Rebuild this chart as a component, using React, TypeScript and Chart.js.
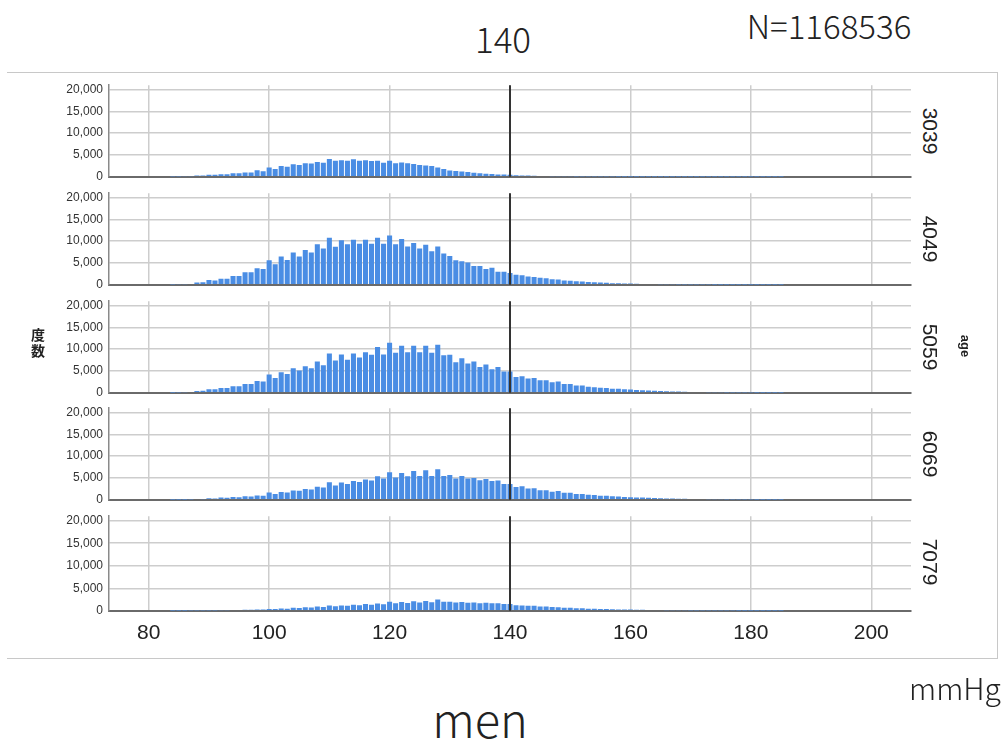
import React, { useEffect, useRef } from "react";
import { Chart, registerables } from "chart.js";

Chart.register(...registerables);

// ---- data ----
const binStart = 84; // first 1-mmHg bin
const panelLabels = ["3039", "4049", "5059", "6069", "7079"];

const age3039 = [
  50, 80, 110, 150, 300, 300,
  450, 450, 600, 600, 800, 800, 1000, 1000, 1500, 1300,
  2150, 1800, 2500, 2300, 2850, 2700, 3100, 3050, 3400, 3200,
  4100, 3700, 3800, 3700, 4000, 3700, 3800, 3650, 3700, 3200,
  3700, 3100, 3300, 3100, 2950, 2700, 2600, 2450, 2150, 1800,
  1450, 1350, 1200, 1100, 950, 800, 700, 650, 550, 500,
  450, 380, 320, 280, 240, 200, 180, 150, 130, 110,
  100, 90, 80, 70, 60, 55, 50, 45, 40, 35,
  30, 28, 25, 22, 20, 18, 16, 14, 12, 10,
  9, 8, 7, 6, 5, 5, 4, 4, 3, 3,
  2, 2, 2, 1, 1, 1,
];

const age4049 = [
  50, 100, 150, 200, 500, 600,
  1100, 1000, 1400, 1400, 2000, 2000, 2900, 2900, 3800, 3600,
  5600, 4700, 6500, 5700, 7400, 6500, 8000, 7400, 9300, 8300,
  10800, 8700, 10200, 9300, 10300, 9400, 10300, 9400, 10800, 9400,
  11300, 9300, 10500, 8800, 9600, 8300, 9200, 7700, 8800, 7200,
  6600, 5600, 5400, 5100, 4300, 4300, 3600, 3900, 3000, 3000,
  2700, 2300, 2200, 1900, 1800, 1600, 1500, 1300, 1200, 1000,
  950, 800, 750, 650, 600, 500, 450, 380, 350, 300,
  280, 240, 210, 180, 160, 140, 120, 100, 90, 80,
  70, 60, 50, 45, 40, 35, 30, 25, 22, 20,
  18, 15, 12, 10, 8, 6,
];

const age5059 = [
  40, 70, 120, 200, 400, 450,
  800, 800, 1100, 1100, 1500, 1500, 2000, 2000, 2700, 2600,
  4200, 3400, 4700, 4300, 5600, 5100, 6100, 5600, 7200, 6300,
  9000, 7400, 8800, 7600, 9000, 8100, 9300, 8700, 10500, 8800,
  11500, 9200, 10800, 9300, 10800, 9300, 10800, 9200, 11000, 8600,
  8700, 7000, 7900, 6700, 7200, 5900, 6500, 5400, 5900, 4900,
  4900, 3600, 3800, 3300, 3400, 2900, 2900, 2400, 2600, 2000,
  2000, 1650, 1650, 1400, 1300, 1150, 1100, 900, 900, 800,
  750, 650, 600, 500, 450, 400, 350, 300, 270, 240,
  210, 180, 160, 140, 120, 100, 90, 80, 70, 60,
  50, 40, 35, 30, 25, 20,
];

const age6069 = [
  20, 30, 40, 50, 200, 150,
  350, 300, 500, 450, 650, 600, 800, 750, 1000, 930,
  1650, 1350, 1800, 1700, 2150, 2100, 2450, 2350, 3000, 2800,
  4000, 3300, 3950, 3600, 4300, 4100, 4650, 4400, 5400, 4900,
  6300, 5100, 6150, 5400, 6600, 5450, 6800, 5450, 7000, 5450,
  5700, 4900, 5450, 4900, 5000, 4500, 4750, 4300, 4400, 3650,
  3650, 2950, 3100, 2600, 2650, 2200, 2200, 1850, 2000, 1600,
  1600, 1350, 1350, 1150, 1100, 950, 900, 800, 750, 650,
  600, 550, 500, 450, 400, 350, 300, 280, 250, 220,
  200, 180, 160, 140, 120, 100, 90, 80, 70, 60,
  50, 40, 35, 30, 25, 20,
];

const age7079 = [
  10, 20, 30, 40, 50, 60,
  80, 90, 110, 130, 160, 180, 220, 240, 290, 300,
  400, 380, 500, 450, 650, 600, 800, 720, 950, 850,
  1150, 1000, 1200, 1100, 1350, 1250, 1500, 1350, 1600, 1450,
  2000, 1700, 1950, 1750, 2100, 1850, 2200, 1900, 2500, 2000,
  2000, 1850, 1950, 1800, 1850, 1700, 1800, 1650, 1650, 1500,
  1500, 1250, 1200, 1100, 1100, 950, 950, 820, 800, 680,
  650, 560, 540, 470, 450, 400, 380, 330, 310, 280,
  280, 240, 220, 190, 180, 160, 140, 120, 110, 100,
  90, 80, 70, 60, 55, 50, 45, 40, 35, 30,
  25, 20, 18, 15, 12, 10,
];

const panelValues = [age3039, age4049, age5059, age6069, age7079];

const xTicks = [80, 100, 120, 140, 160, 180, 200];
const yTicks = [0, 5000, 10000, 15000, 20000];
const xMin = 73.4;
const xMax = 206.6;
const yMax = 21000;
const refLine = 140;

const titleText = "140";
const nText = "N=1168536";
const footerText = "men";
const unitText = "mmHg";
const yTitle = ["度", "数"];
const groupTitle = "age";

// ---- layout constants ----
const firstZero = 180;
const panelStep = 107.8;
const plotH = 98;
const padTop = 10;
const padBottom = 10;
const canvasW = 912;
const axisW = 109;
const xLabelPad = 10;

const refLinePlugin = {
  id: "refLine",
  afterDatasetsDraw(chart: any) {
    const { ctx, chartArea, scales } = chart;
    const x = Math.round(scales.x.getPixelForValue(refLine));
    ctx.save();
    ctx.strokeStyle = "#333";
    ctx.lineWidth = 2;
    ctx.beginPath();
    ctx.moveTo(x, chartArea.top);
    ctx.lineTo(x, chartArea.bottom);
    ctx.stroke();
    ctx.restore();
  },
};

function Panel({ values, top, height, showX }: { values: number[]; top: number; height: number; showX: boolean }) {
  const ref = useRef<HTMLCanvasElement>(null);
  useEffect(() => {
    if (!ref.current) return;
    const data = values.map((v, i) => ({ x: binStart + i, y: v }));
    const chart = new Chart(ref.current, {
      type: "bar",
      data: {
        datasets: [
          {
            data: data as any,
            backgroundColor: "#4a8de4",
            borderWidth: 0,
            barPercentage: 0.84,
            categoryPercentage: 1,
          },
        ],
      },
      options: {
        animation: false,
        responsive: false,
        maintainAspectRatio: false,
        events: [],
        layout: { padding: { top: padTop, bottom: padBottom, left: 0, right: 1 } },
        plugins: { legend: { display: false }, tooltip: { enabled: false } },
        scales: {
          x: {
            type: "linear",
            min: xMin,
            max: xMax,
            offset: false,
            afterBuildTicks: (s: any) => {
              s.ticks = xTicks.map((v) => ({ value: v }));
            },
            grid: { color: "#cdcdcd", lineWidth: 1.5, drawTicks: false, offset: false },
            border: { color: "#6a6a6a", width: 2 },
            ticks: {
              display: showX,
              padding: xLabelPad,
              color: "#222",
              font: { family: "'Liberation Sans', Arial, sans-serif", size: 21 },
              callback: (v: any) => String(v),
            },
          },
          y: {
            min: 0,
            max: yMax,
            afterBuildTicks: (s: any) => {
              s.ticks = yTicks.map((v) => ({ value: v }));
            },
            afterFit: (s: any) => {
              s.width = axisW;
            },
            grid: { color: "#cdcdcd", lineWidth: 1.5, drawTicks: false },
            border: { color: "#8a8a8a", width: 1.5 },
            ticks: {
              padding: 6,
              color: "#333",
              font: { family: "'Liberation Sans', Arial, sans-serif", size: 12 },
              callback: (v: any) => Number(v).toLocaleString("en-US"),
            },
          },
        },
      } as any,
      plugins: [refLinePlugin],
    });
    return () => chart.destroy();
  }, [values, showX]);
  return (
    <canvas
      ref={ref}
      width={canvasW}
      height={height}
      style={{ position: "absolute", left: 0, top, width: canvasW, height }}
    />
  );
}

const textFont = "'Noto Sans CJK JP', 'Noto Sans', sans-serif";

function Label({ cx, cy, size, children, style }: any) {
  return (
    <div
      style={{
        position: "absolute",
        left: cx,
        top: cy,
        transform: "translate(-50%, -50%)",
        fontFamily: textFont,
        fontSize: size,
        fontWeight: 300,
        lineHeight: 1,
        whiteSpace: "nowrap",
        color: "#222",
        ...style,
      }}
    >
      {children}
    </div>
  );
}

export default function App() {
  return (
    <div
      style={{
        position: "absolute",
        left: 0,
        top: 0,
        width: 1008,
        height: 740,
        background: "#fff",
        overflow: "hidden",
      }}
    >
      <div
        style={{
          position: "absolute",
          left: 7,
          top: 72,
          width: 991,
          height: 587,
          boxSizing: "border-box",
          borderTop: "1px solid #c8c8c8",
          borderRight: "1px solid #c8c8c8",
          borderBottom: "1px solid #c8c8c8",
        }}
      />
      {panelValues.map((vals, i) => {
        const zero = firstZero + panelStep * i;
        const showX = i === panelValues.length - 1;
        const top = Math.round(zero - plotH - padTop);
        const height = plotH + padTop + padBottom + (showX ? 2 * xLabelPad + 25 : 0);
        return <Panel key={i} values={vals} top={top} height={height} showX={showX} />;
      })}
      {panelLabels.map((lab, i) => {
        const zero = firstZero + panelStep * i;
        return (
          <div
            key={lab}
            style={{
              position: "absolute",
              left: 930,
              top: zero - plotH / 2,
              transform: "translate(-50%, -50%) rotate(90deg)",
              fontFamily: "'Liberation Sans', Arial, sans-serif",
              fontSize: 21,
              lineHeight: 1,
              color: "#222",
              whiteSpace: "nowrap",
            }}
          >
            {lab}
          </div>
        );
      })}
      <div
        style={{
          position: "absolute",
          left: 965,
          top: 346,
          transform: "translate(-50%, -50%) rotate(90deg)",
          fontFamily: "'Liberation Sans', Arial, sans-serif",
          fontWeight: "bold",
          fontSize: 13,
          lineHeight: 1,
          color: "#222",
        }}
      >
        {groupTitle}
      </div>
      <div
        style={{
          position: "absolute",
          left: 38,
          top: 342,
          transform: "translate(-50%, -50%)",
          fontFamily: textFont,
          fontWeight: "bold",
          fontSize: 14,
          lineHeight: 1.15,
          color: "#222",
          textAlign: "center",
        }}
      >
        {yTitle.map((c) => (
          <div key={c}>{c}</div>
        ))}
      </div>
      <Label cx={503} cy={37} size={35}>{titleText}</Label>
      <Label cx={829} cy={25} size={33}>{nText}</Label>
      <Label cx={480} cy={717} size={47}>{footerText}</Label>
      <Label cx={955} cy={687} size={30}>{unitText}</Label>
    </div>
  );
}
